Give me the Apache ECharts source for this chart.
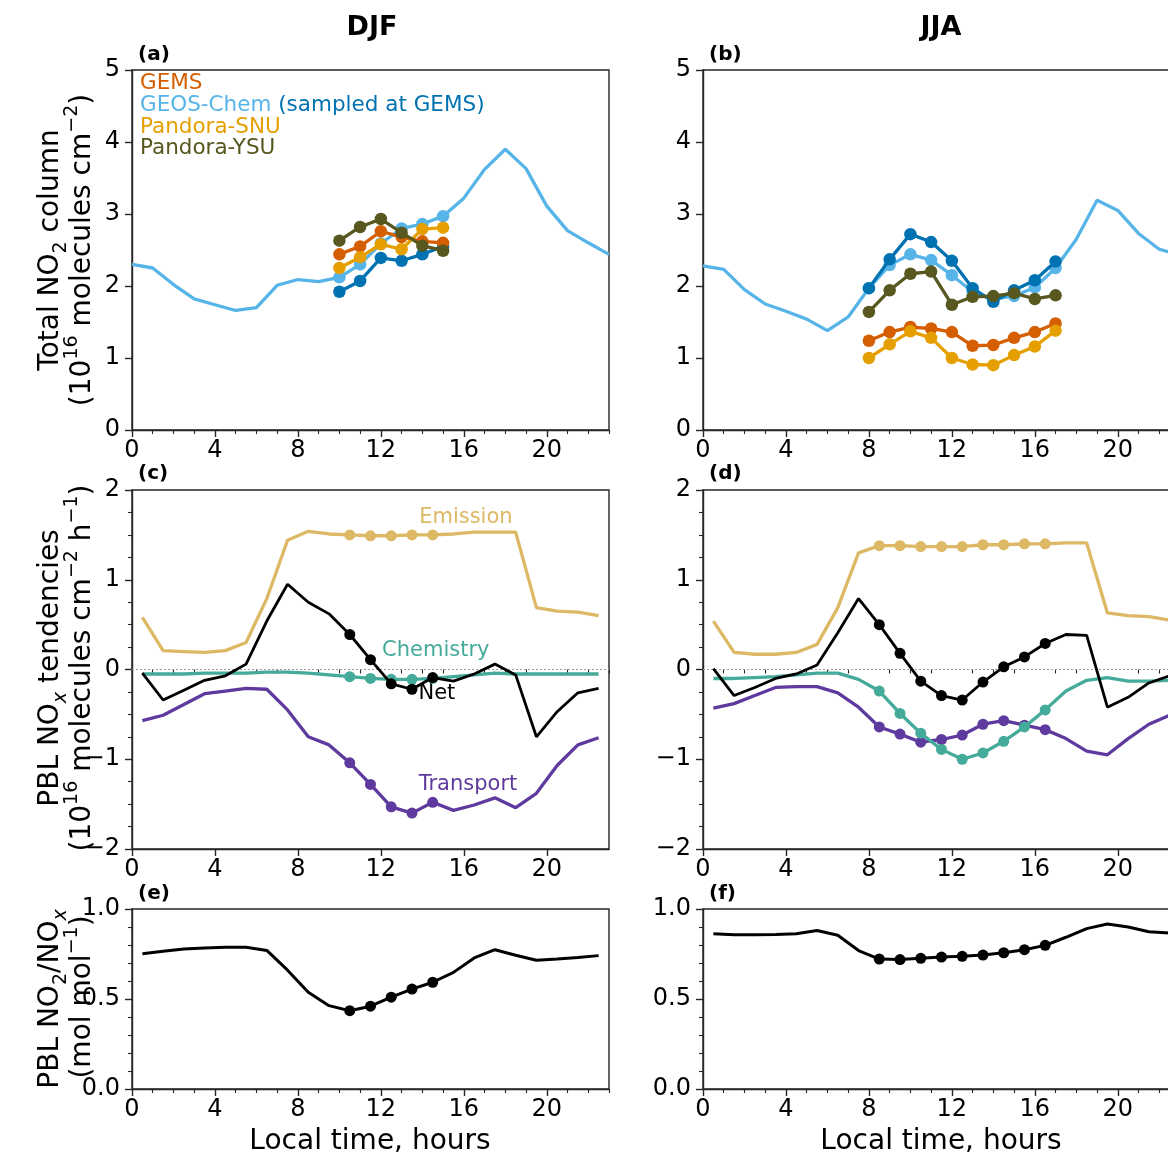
<!DOCTYPE html>
<html>
<head>
<meta charset="utf-8">
<script src="https://cdn.jsdelivr.net/npm/echarts@6/dist/echarts.min.js"></script>
<style>
  html, body { margin: 0; padding: 0; overflow: hidden; background: #fff; width: 1168px; height: 1159px; }
  #chart { width: 1182px; height: 1159px; }
</style>
</head>
<body>
<div id="chart"></div>
<script>
// ---- Hours ----
const hoursInt  = [0,1,2,3,4,5,6,7,8,9,10,11,12,13,14,15,16,17,18,19,20,21,22,23];
const hoursHalf = [0.5,1.5,2.5,3.5,4.5,5.5,6.5,7.5,8.5,9.5,10.5,11.5,12.5,13.5,14.5,15.5,16.5,17.5,18.5,19.5,20.5,21.5,22.5];
const gemsHoursDJF = [10,11,12,13,14,15];
const gemsHoursJJA = [8,9,10,11,12,13,14,15,16,17];
const xTickLabels = [0,4,8,12,16,20];

// ---- Total NO2 column (1e16 molec/cm2) ----
const geosDJF     = [2.30,2.25,2.02,1.82,1.74,1.66,1.70,2.01,2.09,2.06,2.12,2.30,2.59,2.80,2.86,2.97,3.22,3.62,3.90,3.63,3.11,2.77,2.60,2.44];
const geosGemsDJF = [1.92,2.07,2.39,2.35,2.44,2.55];
const gemsDJF     = [2.44,2.55,2.76,2.68,2.62,2.60];
const snuDJF      = [2.25,2.40,2.58,2.51,2.79,2.81];
const ysuDJF      = [2.63,2.82,2.93,2.74,2.56,2.49];

const geosJJA     = [2.28,2.23,1.95,1.75,1.65,1.54,1.38,1.57,1.97,2.29,2.44,2.36,2.15,1.92,1.82,1.86,1.98,2.25,2.65,3.19,3.05,2.73,2.51,2.43];
const geosGemsJJA = [1.97,2.37,2.72,2.61,2.35,1.97,1.78,1.94,2.08,2.34];
const gemsJJA     = [1.24,1.36,1.43,1.41,1.36,1.17,1.18,1.28,1.36,1.48];
const snuJJA      = [1.00,1.19,1.37,1.28,1.00,0.91,0.90,1.04,1.16,1.38];
const ysuJJA      = [1.64,1.94,2.17,2.20,1.74,1.85,1.86,1.90,1.82,1.87];

// ---- PBL NOx tendencies (1e16 molec/cm2/h) ----
const emisDJF  = [0.58,0.21,0.20,0.19,0.21,0.30,0.79,1.44,1.54,1.51,1.50,1.49,1.49,1.50,1.50,1.51,1.53,1.53,1.53,0.69,0.65,0.64,0.60];
const chemDJF  = [-0.05,-0.05,-0.05,-0.04,-0.04,-0.04,-0.03,-0.03,-0.04,-0.06,-0.08,-0.10,-0.11,-0.11,-0.10,-0.08,-0.06,-0.04,-0.05,-0.05,-0.05,-0.05,-0.05];
const transDJF = [-0.57,-0.51,-0.39,-0.27,-0.24,-0.21,-0.22,-0.45,-0.75,-0.84,-1.04,-1.28,-1.53,-1.60,-1.48,-1.57,-1.51,-1.43,-1.54,-1.38,-1.07,-0.84,-0.76];
const netDJF   = [-0.04,-0.34,-0.23,-0.12,-0.07,0.06,0.54,0.95,0.75,0.62,0.39,0.11,-0.16,-0.22,-0.09,-0.13,-0.05,0.06,-0.06,-0.75,-0.47,-0.26,-0.21];

const emisJJA  = [0.54,0.19,0.17,0.17,0.19,0.28,0.69,1.30,1.38,1.38,1.37,1.37,1.37,1.39,1.39,1.40,1.40,1.41,1.41,0.63,0.60,0.59,0.55];
const chemJJA  = [-0.10,-0.10,-0.09,-0.08,-0.06,-0.04,-0.04,-0.11,-0.24,-0.49,-0.71,-0.89,-1.00,-0.93,-0.80,-0.64,-0.45,-0.24,-0.12,-0.09,-0.13,-0.13,-0.12];
const transJJA = [-0.43,-0.38,-0.29,-0.20,-0.19,-0.19,-0.26,-0.42,-0.64,-0.72,-0.81,-0.78,-0.73,-0.61,-0.57,-0.62,-0.67,-0.77,-0.91,-0.95,-0.77,-0.61,-0.51];
const netJJA   = [0.01,-0.29,-0.20,-0.10,-0.05,0.05,0.41,0.79,0.50,0.18,-0.13,-0.29,-0.34,-0.14,0.03,0.14,0.29,0.39,0.38,-0.42,-0.31,-0.15,-0.07];

// ---- PBL NO2/NOx ratio (mol/mol) ----
const ratioDJF = [0.752,0.765,0.778,0.783,0.787,0.787,0.770,0.660,0.537,0.463,0.435,0.460,0.510,0.555,0.593,0.648,0.728,0.774,0.743,0.715,0.722,0.731,0.741];
const ratioJJA = [0.863,0.857,0.857,0.859,0.863,0.881,0.854,0.769,0.722,0.719,0.726,0.733,0.737,0.744,0.757,0.774,0.798,0.843,0.891,0.917,0.900,0.874,0.867];

// ---- Process labels in panel (c): [text, hour, value] ----
const processLabels = [
  ['Emission', 16.1, 1.69],
  ['Chemistry', 14.65, 0.21],
  ['Net', 14.7, -0.27],
  ['Transport', 16.2, -1.28]
];

// ---- Colours ----
const C = {
  gems: '#D55E00', geos: '#56B4E9', geosGems: '#0072B2', snu: '#E69F00', ysu: '#57571F',
  emis: '#DDB865', chem: '#44AA99', trans: '#5F3A9E', net: '#000000', axis: '#262626'
};
const labelColors = { Emission: C.emis, Chemistry: C.chem, Net: '#000000', Transport: C.trans };
const FONT = 'DejaVu Sans';

// ---- Panel layout ----
const panels = [
  { left: 132, top: 70,  height: 360, ymin: 0,  ymax: 5, yint: 1,   minor: 0, fmt: v => String(v) },
  { left: 703, top: 70,  height: 360, ymin: 0,  ymax: 5, yint: 1,   minor: 0, fmt: v => String(v) },
  { left: 132, top: 490, height: 359, ymin: -2, ymax: 2, yint: 1,   minor: 4, fmt: v => v < 0 ? '\u2212' + (-v) : String(v) },
  { left: 703, top: 490, height: 359, ymin: -2, ymax: 2, yint: 1,   minor: 4, fmt: v => v < 0 ? '\u2212' + (-v) : String(v) },
  { left: 132, top: 909, height: 180, ymin: 0,  ymax: 1, yint: 0.5, minor: 5, fmt: v => v.toFixed(1) },
  { left: 703, top: 909, height: 180, ymin: 0,  ymax: 1, yint: 0.5, minor: 5, fmt: v => v.toFixed(1) }
];
const PW = 477;
const minorHours = hoursInt.filter(h => h % 4 !== 0 && h > 0);

const grid = [], xAxis = [], yAxis = [];
panels.forEach((p, i) => {
  grid.push({ left: p.left, top: p.top, width: PW, height: p.height, show: true,
              borderColor: C.axis, borderWidth: 1.4, backgroundColor: 'transparent' });
  xAxis.push({
    type: 'value', gridIndex: i, min: 0, max: 23, interval: 4,
    axisLine: { show: true, onZero: false, lineStyle: { color: C.axis, width: 1.4 } },
    axisTick: { show: true, length: 7, customValues: xTickLabels, lineStyle: { color: C.axis, width: 1.4 } },
    axisLabel: { show: true, customValues: xTickLabels, margin: 9, color: '#000', fontSize: 24, fontFamily: FONT },
    splitLine: { show: false }
  });
  xAxis.push({
    type: 'value', gridIndex: i, min: 0, max: 23, position: 'bottom',
    axisLine: { show: false },
    axisTick: { show: true, length: 4, customValues: minorHours, lineStyle: { color: C.axis, width: 1.1 } },
    axisLabel: { show: false },
    splitLine: { show: false }
  });
  yAxis.push({
    type: 'value', gridIndex: i, min: p.ymin, max: p.ymax, interval: p.yint,
    axisLine: { show: true, onZero: false, lineStyle: { color: C.axis, width: 1.4 } },
    axisTick: { show: true, length: 7, lineStyle: { color: C.axis, width: 1.4 } },
    minorTick: { show: p.minor > 0, splitNumber: p.minor || 5, length: 4, lineStyle: { color: C.axis, width: 1.1 } },
    axisLabel: { margin: 12, color: '#000', fontSize: 24, fontFamily: FONT, formatter: p.fmt },
    splitLine: { show: false }, minorSplitLine: { show: false }
  });
});

function pairs(xs, ys) { return xs.map((x, k) => [x, ys[k]]); }

function line(panel, xs, ys, color, opt) {
  opt = opt || {};
  const lo = opt.lo, hi = opt.hi, size = opt.size || 11;
  return {
    type: 'line', xAxisIndex: panel * 2, yAxisIndex: panel,
    data: pairs(xs, ys), animation: false, silent: true,
    symbol: 'circle', showSymbol: true, showAllSymbol: true,
    symbolSize: v => (lo !== undefined && v[0] >= lo - 1e-6 && v[0] <= hi + 1e-6) ? size : 0,
    lineStyle: { color: color, width: opt.width || 3.3 },
    itemStyle: { color: color },
    z: opt.z || 2
  };
}

function zeroLine(panel) {
  return {
    type: 'line', xAxisIndex: panel * 2, yAxisIndex: panel, data: [], silent: true, z: 1,
    markLine: { silent: true, symbol: 'none', animation: false, label: { show: false },
      lineStyle: { color: '#9a9a9a', width: 1, type: [2, 2] }, data: [{ yAxis: 0 }] }
  };
}

const series = [
  // (a) DJF columns
  line(0, hoursInt, geosDJF, C.geos, { lo: 10, hi: 15, size: 12.5, z: 2 }),
  line(0, gemsHoursDJF, geosGemsDJF, C.geosGems, { lo: 10, hi: 15, size: 12.5, z: 3 }),
  line(0, gemsHoursDJF, gemsDJF, C.gems, { lo: 10, hi: 15, size: 12.5, z: 4 }),
  line(0, gemsHoursDJF, snuDJF, C.snu, { lo: 10, hi: 15, size: 12.5, z: 5 }),
  line(0, gemsHoursDJF, ysuDJF, C.ysu, { lo: 10, hi: 15, size: 12.5, z: 6 }),
  // (b) JJA columns
  line(1, hoursInt, geosJJA, C.geos, { lo: 8, hi: 17, size: 12.5, z: 2 }),
  line(1, gemsHoursJJA, geosGemsJJA, C.geosGems, { lo: 8, hi: 17, size: 12.5, z: 3 }),
  line(1, gemsHoursJJA, gemsJJA, C.gems, { lo: 8, hi: 17, size: 12.5, z: 4 }),
  line(1, gemsHoursJJA, snuJJA, C.snu, { lo: 8, hi: 17, size: 12.5, z: 5 }),
  line(1, gemsHoursJJA, ysuJJA, C.ysu, { lo: 8, hi: 17, size: 12.5, z: 6 }),
  // (c) DJF tendencies
  zeroLine(2),
  line(2, hoursHalf, emisDJF, C.emis, { lo: 10.5, hi: 14.5, size: 11, z: 2 }),
  line(2, hoursHalf, transDJF, C.trans, { lo: 10.5, hi: 14.5, size: 11, z: 3 }),
  line(2, hoursHalf, chemDJF, C.chem, { lo: 10.5, hi: 14.5, size: 11, z: 4 }),
  line(2, hoursHalf, netDJF, C.net, { lo: 10.5, hi: 14.5, size: 11, z: 5, width: 2.8 }),
  // (d) JJA tendencies
  zeroLine(3),
  line(3, hoursHalf, emisJJA, C.emis, { lo: 8.5, hi: 16.5, size: 11, z: 2 }),
  line(3, hoursHalf, transJJA, C.trans, { lo: 8.5, hi: 16.5, size: 11, z: 3 }),
  line(3, hoursHalf, chemJJA, C.chem, { lo: 8.5, hi: 16.5, size: 11, z: 4 }),
  line(3, hoursHalf, netJJA, C.net, { lo: 8.5, hi: 16.5, size: 11, z: 5, width: 2.8 }),
  // (e), (f) NO2/NOx ratio
  line(4, hoursHalf, ratioDJF, '#000', { lo: 10.5, hi: 14.5, size: 11, width: 3 }),
  line(5, hoursHalf, ratioJJA, '#000', { lo: 8.5, hi: 16.5, size: 11, width: 3 })
];

// ---- Text: column titles, panel letters, axis titles, legend ----
const titleRich = {
  m:   { fontSize: 28, fontFamily: FONT, lineHeight: 40, fill: '#000' },
  sup: { fontSize: 19, fontFamily: FONT, lineHeight: 19, verticalAlign: 'top', fill: '#000' },
  sub: { fontSize: 19, fontFamily: FONT, lineHeight: 24, verticalAlign: 'bottom', fill: '#000' },
  subi:{ fontSize: 19, fontFamily: FONT, lineHeight: 24, verticalAlign: 'bottom', fontStyle: 'italic', fill: '#000' }
};
function vtext(x, y, text) {
  return { type: 'text', x: x, y: y, rotation: Math.PI / 2, silent: true,
           style: { text: text, rich: titleRich, align: 'center', verticalAlign: 'middle' } };
}
function htext(x, y, text, size, weight, align, color) {
  return { type: 'text', x: x, y: y, silent: true,
           style: { text: text, fontSize: size, fontWeight: weight || 'normal', fontFamily: FONT,
                    fill: color || '#000', align: align || 'center', verticalAlign: 'middle' } };
}

const graphic = [
  htext(372, 28, 'DJF', 27, 'bold'),
  htext(941, 28, 'JJA', 27, 'bold'),
  htext(138, 55, '(a)', 20, 'bold', 'left'),
  htext(709, 55, '(b)', 20, 'bold', 'left'),
  htext(138, 474, '(c)', 20, 'bold', 'left'),
  htext(709, 474, '(d)', 20, 'bold', 'left'),
  htext(138, 894, '(e)', 20, 'bold', 'left'),
  htext(709, 894, '(f)', 20, 'bold', 'left'),
  htext(370, 1142, 'Local time, hours', 28),
  htext(941, 1142, 'Local time, hours', 28),
  vtext(51, 250, '{m|Total NO}{sub|2}{m| column}'),
  vtext(83, 250, '{m|(10}{sup|16}{m| molecules cm}{sup|\u22122}{m|)}'),
  vtext(51, 668, '{m|PBL NO}{subi|x}{m| tendencies}'),
  vtext(83, 668, '{m|(10}{sup|16}{m| molecules cm}{sup|\u22122}{m| h}{sup|\u22121}{m|)}'),
  vtext(51, 999, '{m|PBL NO}{sub|2}{m|/NO}{subi|x}'),
  vtext(83, 997, '{m|(mol mol}{sup|\u22121}{m|)}'),
  htext(140, 83,  'GEMS', 21.5, 'normal', 'left', C.gems),
  { type: 'text', x: 140, y: 105, silent: true,
    style: { text: '{a|GEOS-Chem }{b|(sampled at GEMS)}', align: 'left', verticalAlign: 'middle',
             rich: { a: { fontSize: 21.5, fontFamily: FONT, fill: C.geos },
                     b: { fontSize: 21.5, fontFamily: FONT, fill: C.geosGems } } } },
  htext(140, 127, 'Pandora-SNU', 21.5, 'normal', 'left', C.snu),
  htext(140, 148, 'Pandora-YSU', 21.5, 'normal', 'left', C.ysu)
];

const chart = echarts.init(document.getElementById('chart'), null, { renderer: 'canvas' });
chart.setOption({
  backgroundColor: '#fff',
  animation: false,
  textStyle: { fontFamily: FONT },
  grid: grid, xAxis: xAxis, yAxis: yAxis, series: series, graphic: graphic
});

// Process names in panel (c), placed in data space through the panel's axes
const tagGraphics = processLabels.map(d => {
  const px = chart.convertToPixel({ xAxisIndex: 4, yAxisIndex: 2 }, [d[1], d[2]]);
  return htext(px[0], px[1], d[0], 21, 'normal', 'center', labelColors[d[0]]);
});
chart.setOption({ graphic: graphic.concat(tagGraphics) });
</script>
</body>
</html>
